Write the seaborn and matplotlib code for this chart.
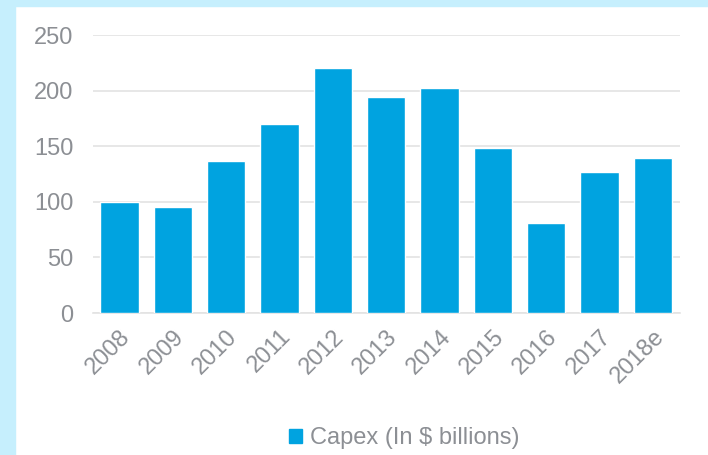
import matplotlib
matplotlib.use('Agg')
import matplotlib.pyplot as plt
import matplotlib.patches as mpatches
import pandas as pd
import seaborn as sns

years = ['2008', '2009', '2010', '2011', '2012', '2013', '2014', '2015', '2016', '2017', '2018e']
capex = [99.5, 95, 137, 170, 220, 194, 202, 148, 81, 127, 139]
y_ticks = [0, 50, 100, 150, 200, 250]
series_name = 'Capex (In $ billions)'

bar_color = '#00a3e0'
text_color = '#8c8f94'

data = pd.DataFrame({'Year': years, 'Capex': capex})

sns.set_style('white')
plt.rcParams['font.family'] = ['Liberation Sans', 'DejaVu Sans']

fig = plt.figure(figsize=(7.08, 4.55), dpi=100)
# light blue frame on the left and top
fig.patches.append(mpatches.Rectangle((0, 0), 15 / 708, 1, transform=fig.transFigure,
                                      color='#c6effd', zorder=0))
fig.patches.append(mpatches.Rectangle((0, 1 - 6 / 455), 1, 6 / 455, transform=fig.transFigure,
                                      color='#c6effd', zorder=0))

ax = fig.add_axes([0.131, 0.312, 0.829, 0.611])
sns.barplot(data=data, x='Year', y='Capex', color=bar_color, width=0.72,
            saturation=1, ax=ax, zorder=3)

ax.set_ylim(0, 250)
ax.set_xlim(-0.5, len(years) - 0.5)
ax.set_yticks(y_ticks)
ax.yaxis.grid(True, color='#e3e3e3', linewidth=1.2, zorder=0)
ax.set_axisbelow(True)
for s in ['top', 'right', 'left']:
    ax.spines[s].set_visible(False)
ax.spines['bottom'].set_color('#e3e3e3')
ax.spines['bottom'].set_linewidth(1.2)
ax.set_xlabel('')
ax.set_ylabel('')
ax.tick_params(axis='both', length=0, colors=text_color, labelsize=17)
ax.tick_params(axis='y', pad=14)
ax.tick_params(axis='x', pad=9)
plt.setp(ax.get_xticklabels(), rotation=45, ha='right', rotation_mode='anchor')

handle = mpatches.Patch(color=bar_color, label=series_name)
fig.legend(handles=[handle], loc='center', bbox_to_anchor=(0.571, 0.037), frameon=False,
           fontsize=17, labelcolor=text_color, handlelength=0.55, handleheight=0.55,
           handletextpad=0.3)

fig.savefig('out.png', dpi=100)
